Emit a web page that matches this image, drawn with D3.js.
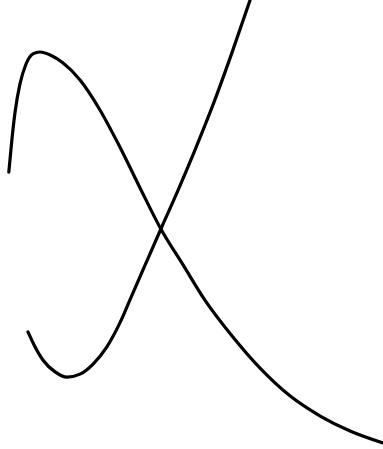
<!DOCTYPE html>
<html>
<head>
<meta charset="utf-8">
<script src="https://cdn.jsdelivr.net/npm/d3@7"></script>
<style>
  html, body { margin: 0; padding: 0; background: #ffffff; }
  svg { display: block; }
</style>
</head>
<body>
<svg id="chart" width="383" height="449"></svg>
<script>
// Curve A: rises steeply to a peak, then decays
const curveAX = [0.23, 0.31, 0.39, 0.52, 0.68, 0.86, 1.04, 1.31, 1.64, 2.09, 2.61, 3.13, 3.66, 4.20, 4.78, 5.35, 6.06, 6.79, 7.57, 8.36, 9.14, 10.0];
const curveAY = [7.40, 8.26, 8.98, 9.75, 10.29, 10.56, 10.61, 10.53, 10.32, 9.86, 9.06, 8.07, 6.97, 5.88, 4.92, 3.98, 3.02, 2.16, 1.42, 0.88, 0.48, 0.16];

// Curve B: dips to a minimum, then rises steeply
const curveBX = [0.73, 0.89, 1.12, 1.44, 1.75, 2.09, 2.43, 2.79, 3.13, 3.39, 3.79, 4.20, 4.65, 5.09, 5.61, 6.08, 6.53];
const curveBY = [3.13, 2.78, 2.38, 2.06, 1.92, 2.00, 2.27, 2.73, 3.37, 3.98, 4.92, 5.88, 6.92, 7.99, 9.33, 10.66, 12.0];

const W = 383, H = 449;
const svg = d3.select("#chart");

const x = d3.scaleLinear().domain([0, 10]).range([0, W]);
const y = d3.scaleLinear().domain([0, 12]).range([H, 0]);

const line = d3.line()
  .x(d => x(d[0]))
  .y(d => y(d[1]))
  .curve(d3.curveMonotoneX);

const series = [
  d3.zip(curveAX, curveAY),
  d3.zip(curveBX, curveBY)
];

svg.selectAll("path.curve")
  .data(series)
  .join("path")
  .attr("class", "curve")
  .attr("d", line)
  .attr("fill", "none")
  .attr("stroke", "#000")
  .attr("stroke-width", 3.2)
  .attr("stroke-linecap", "round")
  .attr("stroke-linejoin", "round");
</script>
</body>
</html>
